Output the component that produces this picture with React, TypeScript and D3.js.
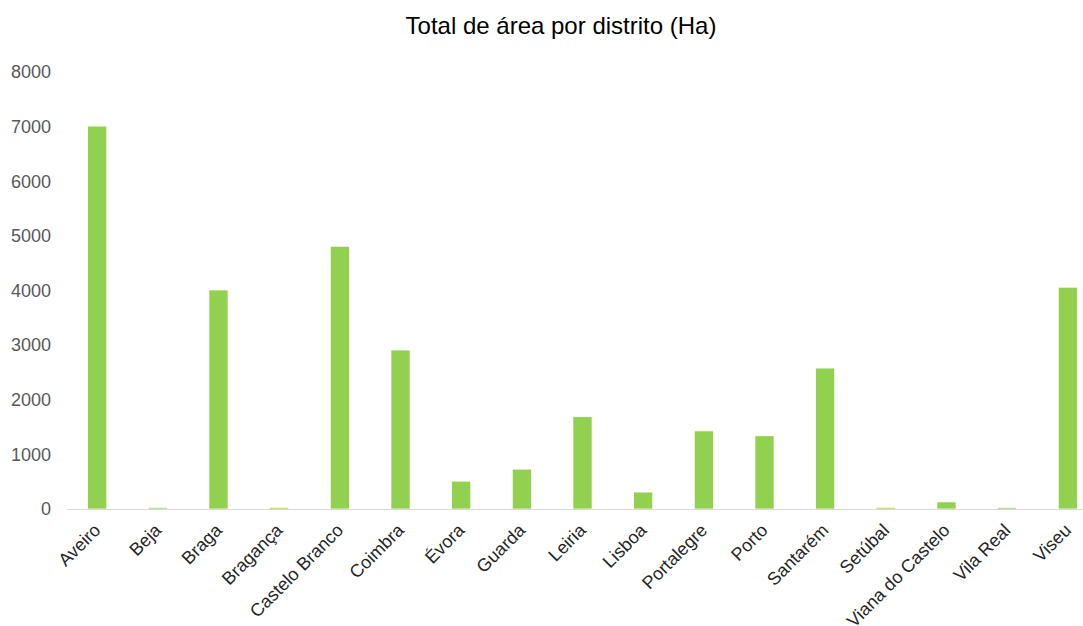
import React from 'react';
import * as d3 from 'd3';

const distritos = [
  'Aveiro', 'Beja', 'Braga', 'Bragança', 'Castelo Branco', 'Coimbra', 'Évora',
  'Guarda', 'Leiria', 'Lisboa', 'Portalegre', 'Porto', 'Santarém', 'Setúbal',
  'Viana do Castelo', 'Vila Real', 'Viseu',
];
const areaHa = [
  7010, 30, 4010, 30, 4810, 2910, 510, 730, 1690, 310, 1430, 1340, 2580, 30, 130, 30, 4060,
];
const yTicks = [0, 1000, 2000, 3000, 4000, 5000, 6000, 7000, 8000];
const title = 'Total de área por distrito (Ha)';

const W = 1083;
const H = 626;
const font = '"Liberation Sans", Arial, sans-serif';

export default function App() {
  const x = d3.scaleBand<string>()
    .domain(distritos)
    .range([67, 1098])
    .paddingInner(0.685)
    .paddingOuter(0.34);
  const y = d3.scaleLinear().domain([0, 8000]).range([509, 72]);

  return (
    <div style={{ position: 'absolute', left: 0, top: 0 }}>
      <svg width={W} height={H} style={{ display: 'block', background: '#fff' }}>
        <text x={561} y={34} textAnchor="middle" fontFamily={font} fontSize={24} fill="#000">
          {title}
        </text>

        {yTicks.map((t) => (
          <text key={t} x={51} y={y(t)} dy="0.35em" textAnchor="end"
            fontFamily={font} fontSize={18} fill="#595959">
            {t}
          </text>
        ))}

        {distritos.map((d, i) => (
          <rect key={d}
            x={x(d)!}
            y={y(areaHa[i])}
            width={x.bandwidth()}
            height={y(0) - y(areaHa[i])}
            fill="#92d050"
            stroke="#ffffff"
            strokeWidth={0.75}
          />
        ))}

        <line x1={67} x2={W} y1={y(0) + 0.5} y2={y(0) + 0.5} stroke="#d9d9d9" strokeWidth={1} />

        {distritos.map((d) => {
          const cx = x(d)! + x.bandwidth() / 2;
          const cy = 527;
          return (
            <text key={d} transform={`translate(${cx},${cy}) rotate(-45)`}
              textAnchor="end" dy="0.35em"
              fontFamily={font} fontSize={18} fill="#262626">
              {d}
            </text>
          );
        })}
      </svg>
    </div>
  );
}
